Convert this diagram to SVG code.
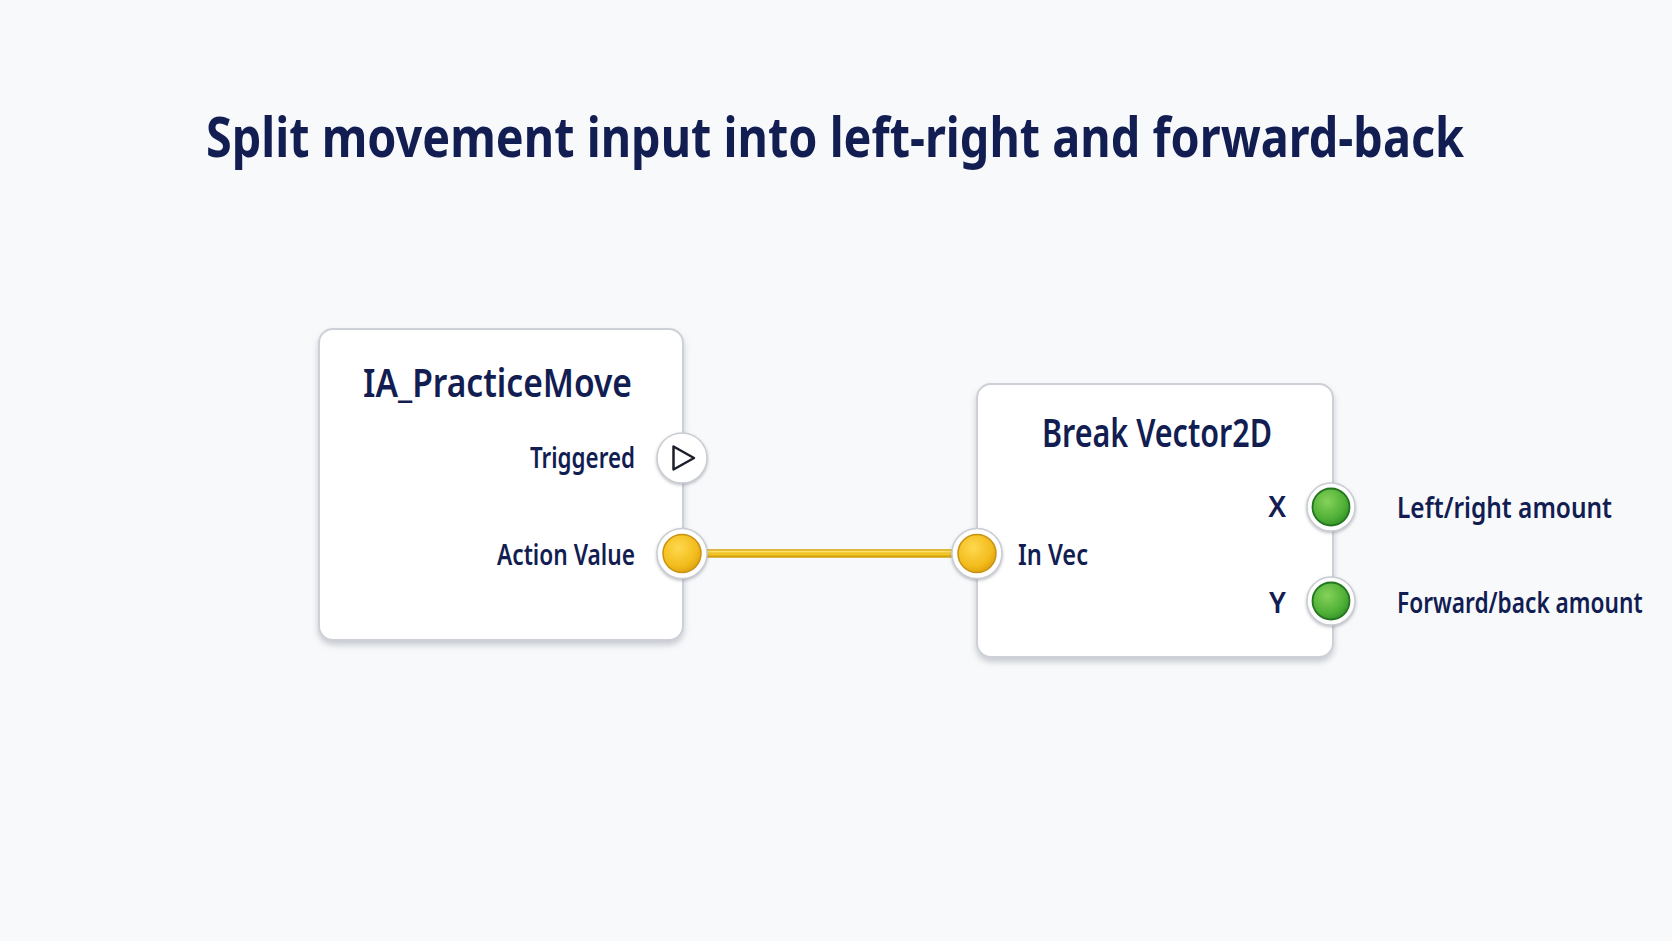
<svg xmlns="http://www.w3.org/2000/svg" width="1672" height="941" viewBox="0 0 1672 941">
  <defs>
    <filter id="shadow" x="-10%" y="-10%" width="120%" height="125%">
      <feDropShadow dx="0" dy="4" stdDeviation="3" flood-color="#8a8f99" flood-opacity="0.45"/>
    </filter>
    <filter id="pinShadow" x="-30%" y="-30%" width="160%" height="160%">
      <feDropShadow dx="0" dy="1.5" stdDeviation="1.5" flood-color="#7a7f88" flood-opacity="0.5"/>
    </filter>
    <radialGradient id="gold" cx="40%" cy="35%" r="70%">
      <stop offset="0" stop-color="#FFD84E"/>
      <stop offset="0.7" stop-color="#F2BC1C"/>
      <stop offset="1" stop-color="#DCA00E"/>
    </radialGradient>
    <radialGradient id="green" cx="40%" cy="35%" r="70%">
      <stop offset="0" stop-color="#86D25A"/>
      <stop offset="0.7" stop-color="#4EAF36"/>
      <stop offset="1" stop-color="#338F28"/>
    </radialGradient>
  </defs>
  <style>
    .node { fill: #FFFFFF; stroke: #CDD0D6; stroke-width: 2; }
    .title { font-family: "Noto Sans", "Open Sans", sans-serif; font-weight: 700; fill: #121D52; }
    .ntitle { font-family: "Noto Sans", "Open Sans", sans-serif; font-weight: 600; font-size: 40px; fill: #121D52; }
    .lbl { font-family: "Noto Sans", "Open Sans", sans-serif; font-weight: 600; font-size: 28px; fill: #121D52; }
    .ring { fill: #FFFFFF; stroke: #C9CCD2; stroke-width: 1.5; }
    .gpin { fill: url(#green); stroke: #23751F; stroke-width: 1.8; }
    .ypin { fill: url(#gold); stroke: #C99110; stroke-width: 1.5; }
  </style>
  <rect x="0" y="0" width="1672" height="941" fill="#F8F9FB"/>

  <text class="title" transform="translate(835,157) scale(0.86,1)" x="0" y="0" font-size="55" text-anchor="middle" textLength="1463" lengthAdjust="spacingAndGlyphs">Split movement input into left-right and forward-back</text>

  <g id="connectors">
    <line x1="682" y1="553.5" x2="977" y2="553.5" stroke="#D3A10C" stroke-width="8.5"/>
    <line x1="682" y1="553" x2="977" y2="553" stroke="#F0C52A" stroke-width="5"/>
    <line x1="682" y1="551.5" x2="977" y2="551.5" stroke="#FADF6A" stroke-width="1.5"/>
  </g>

  <g id="node-ia-practicemove">
    <rect class="node" x="319" y="329" width="364" height="311" rx="14" filter="url(#shadow)"/>
    <text class="ntitle" x="497.5" y="397" text-anchor="middle" textLength="269" lengthAdjust="spacingAndGlyphs">IA_PracticeMove</text>
    <text class="lbl" x="635" y="468" text-anchor="end" textLength="105" lengthAdjust="spacingAndGlyphs">Triggered</text>
    <text class="lbl" x="635" y="565" text-anchor="end" textLength="138" lengthAdjust="spacingAndGlyphs">Action Value</text>
    <g id="pin-triggered">
      <circle class="ring" cx="682" cy="458" r="25" filter="url(#pinShadow)"/>
      <path d="M673.5 446.5 L694 458 L673.5 469.5 Z" fill="none" stroke="#1C1F2A" stroke-width="2.5" stroke-linejoin="round"/>
    </g>
    <g id="pin-action-value">
      <circle class="ring" cx="682" cy="553.5" r="25" filter="url(#pinShadow)"/>
      <circle class="ypin" cx="682" cy="553.5" r="19"/>
    </g>
  </g>

  <g id="node-break-vector2d">
    <rect class="node" x="977" y="384" width="356" height="273" rx="14" filter="url(#shadow)"/>
    <text class="ntitle" x="1157" y="447" text-anchor="middle" textLength="230" lengthAdjust="spacingAndGlyphs">Break Vector2D</text>
    <text class="lbl" x="1018" y="565" textLength="70" lengthAdjust="spacingAndGlyphs">In Vec</text>
    <text class="lbl" x="1286" y="517" text-anchor="end">X</text>
    <text class="lbl" x="1286" y="613" text-anchor="end">Y</text>
    <g id="pin-in-vec">
      <circle class="ring" cx="977" cy="553.5" r="25" filter="url(#pinShadow)"/>
      <circle class="ypin" cx="977" cy="553.5" r="19"/>
    </g>
    <g id="pin-x">
      <circle class="ring" cx="1331" cy="507" r="24" filter="url(#pinShadow)"/>
      <circle class="gpin" cx="1331" cy="507" r="18.5"/>
    </g>
    <g id="pin-y">
      <circle class="ring" cx="1331" cy="601" r="24" filter="url(#pinShadow)"/>
      <circle class="gpin" cx="1331" cy="601" r="18.5"/>
    </g>
  </g>

  <g id="output-labels">
    <text class="lbl" transform="translate(1397,518) scale(0.85,1)" x="0" y="0" textLength="253" lengthAdjust="spacingAndGlyphs">Left/right amount</text>
    <text class="lbl" transform="translate(1397,613) scale(0.85,1)" x="0" y="0" textLength="289" lengthAdjust="spacingAndGlyphs">Forward/back amount</text>
  </g>
</svg>
